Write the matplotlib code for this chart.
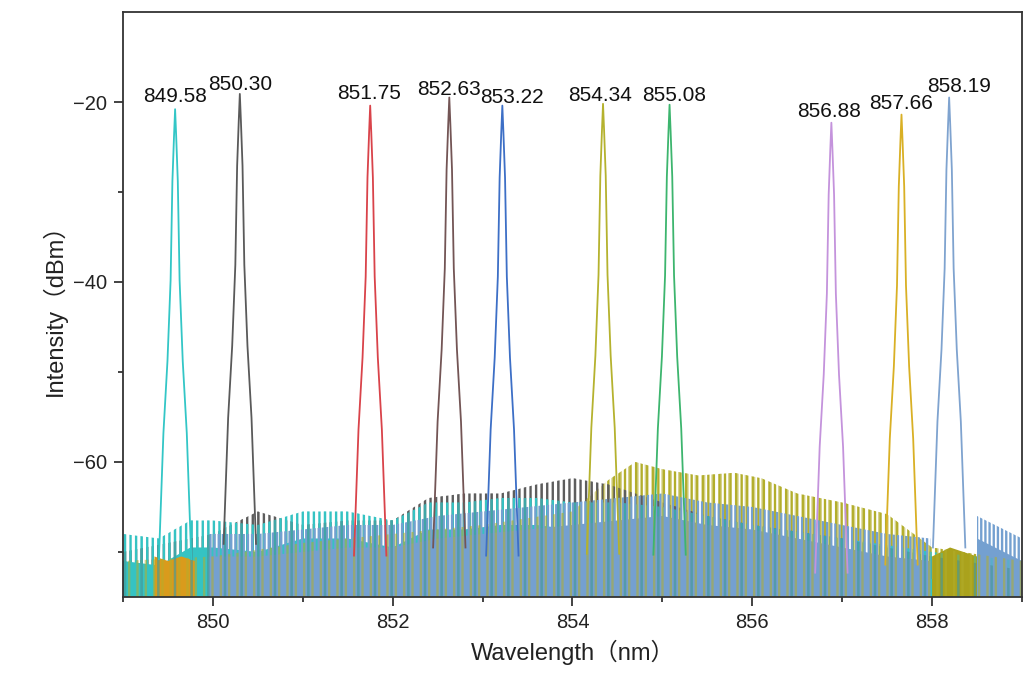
import numpy as np
import matplotlib
matplotlib.use('Agg')
from matplotlib import pyplot as plt

plt.rcParams['font.family'] = ['Liberation Sans', 'Noto Sans CJK SC', 'DejaVu Sans']
plt.rcParams['hatch.linewidth'] = 1.7

# peak wavelengths (nm) and peak power (dBm)
peak_wl = [849.58, 850.30, 851.75, 852.63, 853.22, 854.34, 855.08, 856.88, 857.66, 858.19]
peak_db = [-20.8, -19.1, -20.4, -19.5, -20.4, -20.2, -20.3, -22.3, -21.4, -19.5]
peak_labels = ['849.58', '850.30', '851.75', '852.63', '853.22',
               '854.34', '855.08', '856.88', '857.66', '858.19']

# common line shape of a peak: drop below apex (dB) vs half width (nm)
shape_drop = [0, 3, 8, 19, 28, 36, 50]
shape_half = [0, 0.012, 0.03, 0.05, 0.085, 0.13, 0.18]

# noise floor tops (fringe maxima)
olive_wl = [849.0, 850.0, 851.0, 852.0, 853.0, 854.0, 854.4, 854.7, 855.0, 855.4,
            855.8, 856.1, 856.5, 857.0, 857.5, 858.0, 859.0]
olive_db = [-71, -70.5, -69, -68, -67, -65.5, -62, -60, -60.8, -61.5,
            -61.2, -61.8, -63.5, -64.5, -65.8, -69.5, -71]
gray_wl = [849.0, 850.0, 850.5, 851.0, 851.5, 852.0, 852.4, 852.8, 853.2, 853.6,
           854.0, 854.4, 855.0, 855.5, 856.0, 857.0, 858.0, 859.0]
gray_db = [-70, -68, -65.5, -67, -66.5, -66.5, -64, -63.5, -63.5, -62.5,
           -61.8, -62.5, -64.5, -66, -67, -68.5, -70.5, -72]
cyan_wl = [849.0, 849.4, 849.75, 850.0, 850.5, 851.0, 851.5, 852.0, 852.4, 852.8,
           853.2, 853.6, 854.0, 854.5, 855.0, 856.0, 857.0, 858.0, 859.0]
cyan_db = [-68, -68.5, -66.5, -66.5, -67, -65.5, -65.5, -66.5, -64.5, -64.5,
           -64, -64, -64.5, -64.5, -65, -67, -68.5, -70, -71]
orange_wl = [849.35, 849.5, 849.65, 849.8]
orange_db = [-69.5, -70, -69.5, -70]
blue_wl = [849.95, 850.5, 851.0, 851.5, 852.0, 852.5, 853.0, 853.5, 854.0, 854.5,
           855.0, 855.5, 856.0, 856.5, 857.0, 857.5, 857.98]
blue_db = [-68, -68, -67.5, -67, -67, -66, -65.5, -65, -64.5, -64,
           -63.5, -64.5, -65, -66, -67, -68, -68.5]
yellow_wl = [858.0, 858.2, 858.5]
yellow_db = [-69.5, -68.5, -69.5]
blue2_wl = [858.5, 858.6, 858.8, 859.0]
blue2_db = [-66, -66.5, -67.5, -68.5]

peak_colors = ['#33c6c6', '#5a5a5a', '#d9434a', '#735555', '#3d6fc6',
               '#b5b22e', '#3db56e', '#c493dc', '#d9b025', '#7fa3cf']
c_olive, c_gray, c_cyan = '#b3ae2c', '#5d5d5d', '#35c3c3'
c_orange, c_blue, c_yellow = '#d99b1c', '#74a0d0', '#aaa21c'

# label nudges in points (dx, dy)
label_off = [(0, 5), (0, 3), (-1, 5), (0, 2), (7, 2), (-2, 2), (3, 3), (-2, 4), (0, 4), (7, 4)]

fig = plt.figure(figsize=(10.35, 6.75), dpi=100)
ax = fig.add_axes([0.1188, 0.1156, 0.8686, 0.8666])
floor_bottom = -80


def stripes(wl, db, c, h, z=1, a=1.0):
    ax.fill_between(wl, floor_bottom, db, facecolor='none', edgecolor=c,
                    hatch=h, linewidth=0, zorder=z, alpha=a)


def solid(wl, db, c, depth, z=1):
    ax.fill_between(wl, floor_bottom, np.array(db) - depth, facecolor=c,
                    edgecolor='none', linewidth=0, zorder=z)


# fringe tops of the upper spectra
stripes(olive_wl, olive_db, c_olive, '|||')
stripes(gray_wl, gray_db, c_gray, '|||')
stripes(cyan_wl, cyan_db, c_cyan, '|||')
# dense lower floor
solid(cyan_wl, cyan_db, c_cyan, 3)
solid(orange_wl, orange_db, c_orange, 1)
solid(blue_wl, blue_db, c_blue, 2.5)
solid(yellow_wl, yellow_db, c_yellow, 1)
solid(blue2_wl, blue2_db, c_blue, 2.5)
stripes(blue_wl, blue_db, c_blue, '||||')
stripes(blue2_wl, blue2_db, c_blue, '||||')
# thin fringes of other spectra seen inside the floor
stripes(olive_wl, olive_db, c_olive, '||', a=0.55)
stripes(gray_wl, gray_db, c_gray, '|', a=0.45)
stripes(cyan_wl, cyan_db, c_cyan, '|', a=0.4)

drop = np.array(shape_drop)
half = np.array(shape_half)
for w, p, c in zip(peak_wl, peak_db, peak_colors):
    x = np.concatenate([w - half[::-1], w + half[1:]])
    y = np.concatenate([p - drop[::-1], p - drop[1:]])
    ax.plot(x, y, color=c, lw=1.3, zorder=3)

for w, p, t, (dx, dy) in zip(peak_wl, peak_db, peak_labels, label_off):
    ax.annotate(t, (w, p), xytext=(dx, dy), textcoords='offset points',
                ha='center', va='baseline', fontsize=15, color='#111111')

ax.set_xlim(849, 859)
ax.set_ylim(-75, -10)
ax.set_xticks([850, 852, 854, 856, 858])
ax.set_xticks([849, 851, 853, 855, 857, 859], minor=True)
ax.set_yticks([-60, -40, -20])
ax.set_yticks([-70, -50, -30], minor=True)
ax.tick_params(which='major', direction='out', length=6.5, width=1.2,
               labelsize=14.5, colors='#222222', pad=5)
ax.tick_params(which='minor', direction='out', length=3.5, width=1.2, colors='#222222')
for s in ax.spines.values():
    s.set_linewidth(1.3)
    s.set_color('#333333')

ax.set_xlabel('Wavelength（nm）', fontsize=17, color='#222222', labelpad=6)
ax.set_ylabel('Intensity（dBm）', fontsize=17, color='#222222', labelpad=4)

fig.savefig('out.png', dpi=100)
